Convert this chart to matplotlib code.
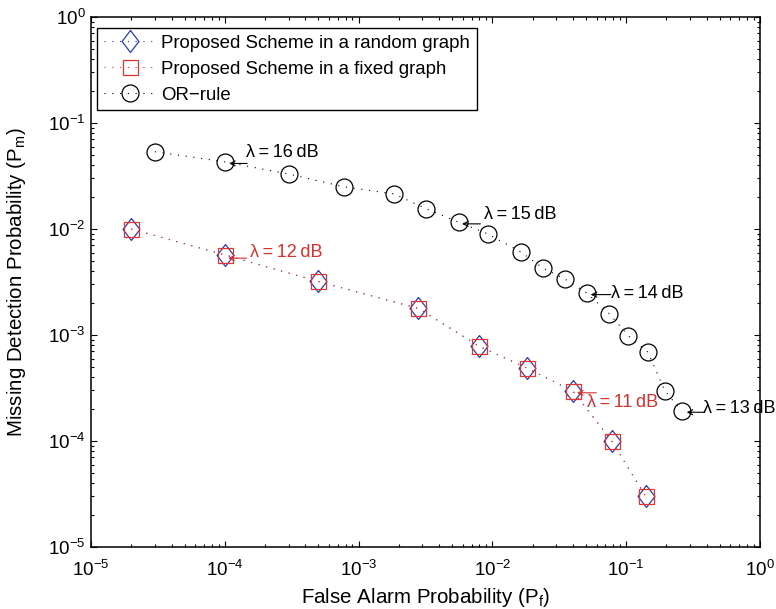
import matplotlib
matplotlib.use("Agg")
import matplotlib.pyplot as plt
from matplotlib.transforms import offset_copy
from matplotlib.ticker import LogLocator, NullFormatter

plt.rcParams['font.family'] = ['Liberation Sans', 'DejaVu Sans']
plt.rcParams['mathtext.fontset'] = 'custom'
plt.rcParams['mathtext.rm'] = 'Liberation Sans'
plt.rcParams['mathtext.it'] = 'Liberation Sans:italic'
plt.rcParams['mathtext.bf'] = 'Liberation Sans:bold'

# ---------------- data ----------------
pf_proposed = [2e-5, 1e-4, 5e-4, 2.8e-3, 8e-3, 1.8e-2, 4e-2, 7.8e-2, 1.4e-1]
pm_random = [1e-2, 5.7e-3, 3.2e-3, 1.78e-3, 7.8e-4, 4.9e-4, 2.95e-4, 1e-4, 3e-5]
pm_fixed = [1e-2, 5.7e-3, 3.2e-3, 1.78e-3, 7.8e-4, 4.9e-4, 2.95e-4, 1e-4, 3e-5]

pf_or = [3e-5, 1e-4, 3e-4, 7.8e-4, 1.85e-3, 3.2e-3, 5.6e-3, 9.2e-3, 1.63e-2,
         2.38e-2, 3.47e-2, 5.07e-2, 7.5e-2, 1.04e-1, 1.45e-1, 1.95e-1, 2.6e-1]
pm_or = [5.36e-2, 4.3e-2, 3.3e-2, 2.5e-2, 2.14e-2, 1.55e-2, 1.16e-2, 9e-3, 6.07e-3,
         4.29e-3, 3.38e-3, 2.49e-3, 1.58e-3, 9.8e-4, 6.9e-4, 2.96e-4, 1.92e-4]

legend_labels = ['Proposed Scheme in a random graph',
                 'Proposed Scheme in a fixed graph',
                 'OR\u2212rule']

# annotations: (text, index)
annot_or = [('16', 1), ('15', 6), ('14', 11), ('13', 16)]
annot_prop = [('12', 1), ('11', 6)]

# ---------------- figure ----------------
W, H = 776, 609
fig = plt.figure(figsize=(W / 100, H / 100), dpi=100)
L, R, T, B = 91, 760, 17, 547
ax = fig.add_axes([L / W, 1 - B / H, (R - L) / W, (B - T) / H])
ax.set_xscale('log')
ax.set_yscale('log')
ax.set_xlim(1e-5, 1)
ax.set_ylim(1e-5, 1)

blue = '#2a3fae'
red = '#e2342c'
red_text = '#d3322e'

diamond = [(0, 1), (0.77, 0), (0, -1), (-0.77, 0), (0, 1)]
dot = (0, (1, 6))

ax.plot(pf_proposed, pm_random, linestyle=dot, color=blue, lw=0.8,
        marker=diamond, ms=15.8, mfc='none', mec=blue, mew=0.9,
        label=legend_labels[0])
ax.plot(pf_proposed, pm_fixed, linestyle=dot, color=red, lw=0.8,
        marker='s', ms=10.8, mfc='none', mec=red, mew=0.9,
        label=legend_labels[1])
ax.plot(pf_or, pm_or, linestyle=dot, color='black', lw=0.8,
        marker='o', ms=12.2, mfc='none', mec='black', mew=0.9,
        label=legend_labels[2])

# ticks
for axis in (ax.xaxis, ax.yaxis):
    axis.set_major_locator(LogLocator(base=10, numticks=10))
    axis.set_minor_locator(LogLocator(base=10, subs=range(2, 10), numticks=20))
    axis.set_minor_formatter(NullFormatter())
ax.tick_params(which='both', direction='in', top=True, right=True, width=0.8)
ax.tick_params(which='major', length=4.5)
ax.tick_params(which='minor', length=2.3)
ax.tick_params(axis='x', which='major', labelsize=13.5, pad=9)
ax.tick_params(axis='y', which='major', labelsize=13.5, pad=4)
for s in ax.spines.values():
    s.set_linewidth(1.1)

ax.set_xlabel('False Alarm Probability (P$_\\mathregular{f}$)', fontsize=14.8)
ax.set_ylabel('Missing Detection Probability (P$_\\mathregular{m}$)', fontsize=14.8)
ax.xaxis.set_label_coords(0.5, -0.073)
ax.yaxis.set_label_coords(-0.094, 0.5)

# legend
leg = ax.legend(loc='upper left', bbox_to_anchor=(0.009, 0.979), borderaxespad=0,
                fontsize=13.4, numpoints=1, handlelength=2.8, handletextpad=0.3,
                labelspacing=0.48, borderpad=0.36, fancybox=False, framealpha=1,
                edgecolor='black')
leg.get_frame().set_linewidth(1.0)


def lam_text(n):
    return '\u03bb\u2009=\u2009' + n + '\u2009dB'


def add_annot(x, y, n, color, tip, tail, txt):
    tip_tr = offset_copy(ax.transData, fig, x=tip[0], y=tip[1], units='dots')
    tail_tr = offset_copy(ax.transData, fig, x=tail[0], y=tail[1], units='dots')
    ax.annotate('', xy=(x, y), xycoords=tip_tr, xytext=(x, y), textcoords=tail_tr,
                arrowprops=dict(arrowstyle='->,head_length=0.35,head_width=0.18',
                                color=color, lw=0.8, shrinkA=0, shrinkB=0),
                annotation_clip=False)
    txt_tr = offset_copy(ax.transData, fig, x=txt[0], y=txt[1], units='dots')
    ax.text(x, y, lam_text(n), transform=txt_tr, ha='left', va='center',
            fontsize=13.0, color=color, clip_on=False)


or_offsets = {
    '16': ((4.3, -1.6), (22.3, -1.6), (21.5, 9.2)),
    '15': ((3.4, -1.7), (21.7, -1.7), (25.7, 7.3)),
    '14': ((4.0, -1.6), (24.0, -1.6), (24.7, 0.0)),
    '13': ((5.0, -1.3), (22.0, -1.3), (21.0, 2.2)),
}
prop_offsets = {
    '12': ((3.4, -3.3), (21.7, -3.3), (25.7, 2.5)),
    '11': ((4.0, -1.6), (23.3, -1.6), (14.3, -11.8)),
}
for n, i in annot_or:
    tip, tail, txt = or_offsets[n]
    add_annot(pf_or[i], pm_or[i], n, 'black', tip, tail, txt)
for n, i in annot_prop:
    tip, tail, txt = prop_offsets[n]
    add_annot(pf_proposed[i], pm_fixed[i], n, red_text, tip, tail, txt)

fig.savefig('out.png', dpi=100)
